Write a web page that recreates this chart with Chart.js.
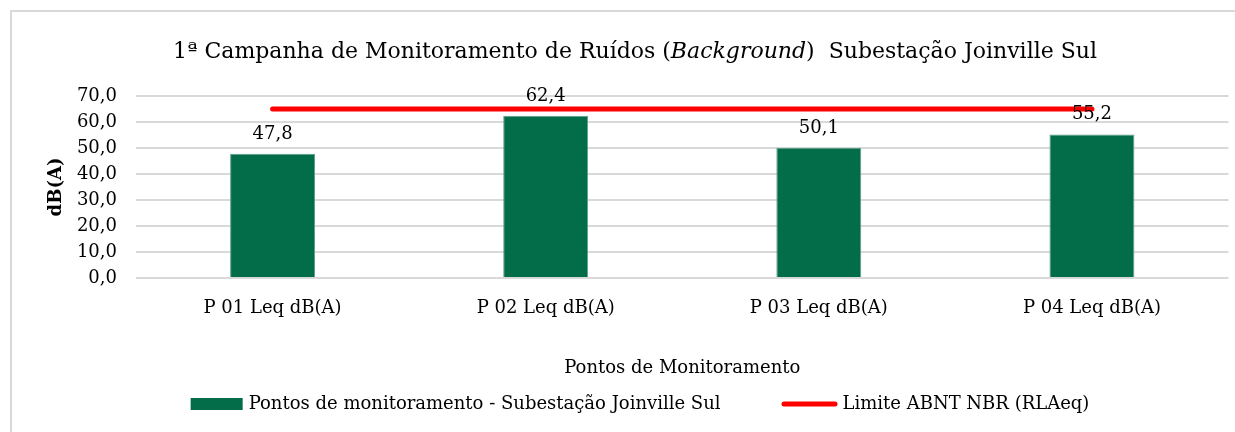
<!DOCTYPE html>
<html lang="pt-BR">
<head>
<meta charset="utf-8">
<title>1ª Campanha de Monitoramento de Ruídos</title>
<script src="https://cdn.jsdelivr.net/npm/chart.js@4.4.1/dist/chart.umd.min.js"></script>
<style>
  html, body { margin: 0; padding: 0; background: #fff; overflow: hidden; width: 1235px; height: 432px; }
  .edge { position: absolute; background: #d9d9d9; }
  #edgeTop { left: 10px; top: 10px; width: 1225px; height: 2px; }
  #edgeLeft { left: 10px; top: 10px; width: 2px; height: 422px; }
  #wrap { position: absolute; left: 0; top: 0; width: 1235px; height: 432px; }
</style>
</head>
<body>
<div class="edge" id="edgeTop"></div>
<div class="edge" id="edgeLeft"></div>
<div id="wrap"><canvas id="chart" width="1235" height="432"></canvas></div>
<script>
'use strict';

const CATEGORIES = ['P 01 Leq dB(A)', 'P 02 Leq dB(A)', 'P 03 Leq dB(A)', 'P 04 Leq dB(A)'];
const LEQ_VALUES = [47.8, 62.4, 50.1, 55.2];
const LIMIT_VALUES = [65, 65, 65, 65];
const Y_TICKS = { min: 0, max: 70, step: 10 };

const BAR_LABEL = 'Pontos de monitoramento - Subestação Joinville Sul';
const LIMIT_LABEL = 'Limite ABNT NBR (RLAeq)';
const X_TITLE = 'Pontos de Monitoramento';
const Y_TITLE = 'dB(A)';
const TITLE_PARTS = [
  { text: '1ª Campanha de Monitoramento de Ruídos (', italic: false },
  { text: 'Background', italic: true },
  { text: ')  Subestação Joinville Sul', italic: false },
];

const GREEN = '#036c49';
const RED = '#ff0000';
const FONT = '"DejaVu Serif", serif';

const fmt = v => v.toFixed(1).replace('.', ',');

// Title with an italic run in the middle
const mixedTitle = {
  id: 'mixedTitle',
  afterDraw(chart) {
    const ctx = chart.ctx;
    const size = 22;
    ctx.save();
    ctx.fillStyle = '#000';
    ctx.textBaseline = 'alphabetic';
    ctx.textAlign = 'left';
    const fonts = TITLE_PARTS.map(p => `${p.italic ? 'italic ' : ''}${size}px ${FONT}`);
    let total = 0;
    const widths = TITLE_PARTS.map((p, i) => {
      ctx.font = fonts[i];
      const w = ctx.measureText(p.text).width;
      total += w;
      return w;
    });
    let x = 635 - total / 2;
    TITLE_PARTS.forEach((p, i) => {
      ctx.font = fonts[i];
      ctx.fillText(p.text, x, 58);
      x += widths[i];
    });
    ctx.restore();
  }
};

// Value labels above the bars
const barValues = {
  id: 'barValues',
  afterDatasetsDraw(chart) {
    const ctx = chart.ctx;
    const meta = chart.getDatasetMeta(0);
    ctx.save();
    ctx.font = `18px ${FONT}`;
    ctx.fillStyle = '#000';
    ctx.textAlign = 'center';
    ctx.textBaseline = 'alphabetic';
    meta.data.forEach((bar, i) => {
      ctx.fillText(fmt(chart.data.datasets[0].data[i]), bar.x, bar.y - 15);
    });
    ctx.restore();
  }
};

// Legend row under the axis title
const bottomLegend = {
  id: 'bottomLegend',
  afterDraw(chart) {
    const ctx = chart.ctx;
    const ds = chart.data.datasets;
    const y = 404;
    const itemGap = 61;
    ctx.save();
    ctx.font = `18px ${FONT}`;
    ctx.textBaseline = 'middle';
    ctx.textAlign = 'left';
    const items = ds.map(d => {
      const isLine = d.type === 'line';
      const sw = isLine ? 56 : 52;
      const gap = isLine ? 5 : 6;
      return { d, isLine, sw, gap, tw: ctx.measureText(d.label).width };
    });
    const total = items.reduce((s, it) => s + it.sw + it.gap + it.tw, 0) + itemGap * (items.length - 1);
    let x = 640 - total / 2;
    items.forEach(it => {
      if (it.isLine) {
        ctx.strokeStyle = it.d.borderColor;
        ctx.lineWidth = it.d.borderWidth;
        ctx.lineCap = 'round';
        ctx.beginPath();
        ctx.moveTo(x + 2.5, y);
        ctx.lineTo(x + it.sw - 2.5, y);
        ctx.stroke();
      } else {
        ctx.fillStyle = it.d.backgroundColor;
        ctx.fillRect(x, y - 6, it.sw, 12);
      }
      x += it.sw + it.gap;
      ctx.fillStyle = '#000';
      ctx.fillText(it.d.label, x, y);
      x += it.tw + itemGap;
    });
    ctx.restore();
  }
};

new Chart(document.getElementById('chart'), {
  type: 'bar',
  data: {
    labels: CATEGORIES,
    datasets: [
      {
        label: BAR_LABEL,
        data: LEQ_VALUES,
        backgroundColor: GREEN,
        borderColor: '#5f9f86',
        borderWidth: 1,
        barPercentage: 0.311,
        categoryPercentage: 1,
      },
      {
        type: 'line',
        label: LIMIT_LABEL,
        data: LIMIT_VALUES,
        borderColor: RED,
        backgroundColor: RED,
        borderWidth: 5,
        borderCapStyle: 'round',
        pointRadius: 0,
        fill: false,
      }
    ]
  },
  options: {
    responsive: false,
    animation: false,
    layout: { padding: { left: 0, right: 6.5, top: 96, bottom: 53 } },
    plugins: {
      legend: { display: false },
      title: { display: false },
      tooltip: { enabled: false },
    },
    scales: {
      x: {
        grid: { display: false },
        border: { display: false },
        ticks: { color: '#000', font: { family: FONT, size: 18 }, padding: 12, maxRotation: 0 },
        title: { display: true, text: X_TITLE, color: '#000', font: { family: FONT, size: 18 }, padding: 0 },
        afterFit: s => { s.height = 101; },
      },
      y: {
        min: Y_TICKS.min,
        max: Y_TICKS.max,
        grid: { color: '#d9d9d9', lineWidth: 2, drawTicks: false },
        border: { display: false },
        ticks: {
          stepSize: Y_TICKS.step,
          color: '#000',
          font: { family: FONT, size: 18 },
          padding: 19,
          callback: v => fmt(v),
        },
        title: {
          display: true, text: Y_TITLE, color: '#000',
          font: { family: FONT, size: 18, weight: 'bold' },
          padding: { top: 46, bottom: 0 },
        },
        afterFit: s => { s.width = 136; },
      }
    }
  },
  plugins: [mixedTitle, barValues, bottomLegend]
});
</script>
</body>
</html>
